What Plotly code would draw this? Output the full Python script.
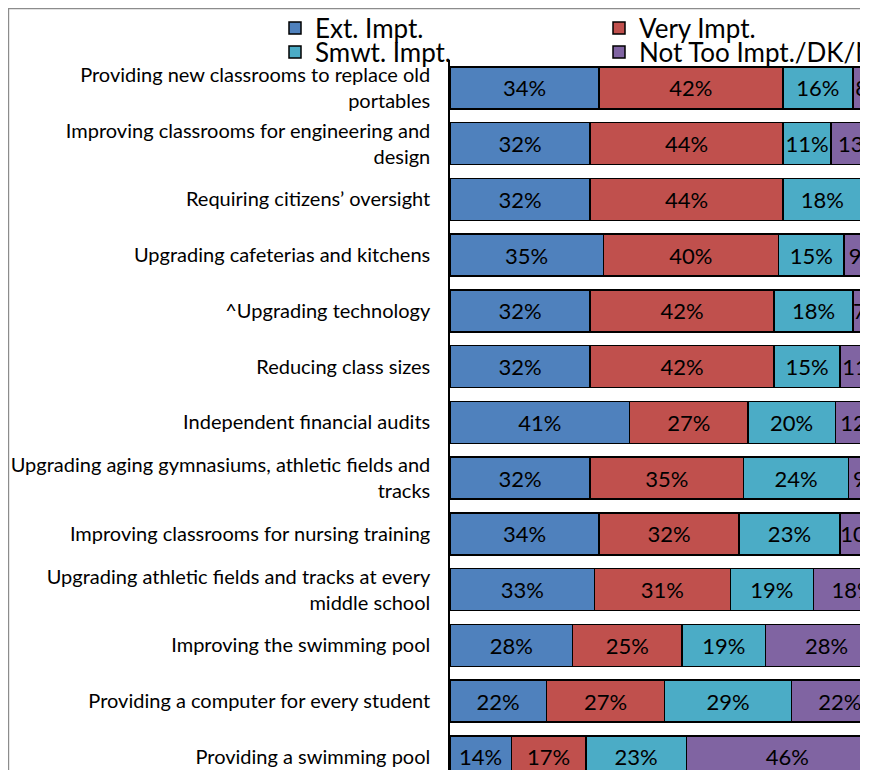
import plotly.graph_objects as go

categories = [
    "Providing new classrooms to replace old<br>portables",
    "Improving classrooms for engineering and<br>design",
    "Requiring citizens’ oversight",
    "Upgrading cafeterias and kitchens",
    "^Upgrading technology",
    "Reducing class sizes",
    "Independent financial audits",
    "Upgrading aging gymnasiums, athletic fields and<br>tracks",
    "Improving classrooms for nursing training",
    "Upgrading athletic fields and tracks at every<br>middle school",
    "Improving the swimming pool",
    "Providing a computer for every student",
    "Providing a swimming pool",
]
ext_impt = [34, 32, 32, 35, 32, 32, 41, 32, 34, 33, 28, 22, 14]
very_impt = [42, 44, 44, 40, 42, 42, 27, 35, 32, 31, 25, 27, 17]
smwt_impt = [16, 11, 18, 15, 18, 15, 20, 24, 23, 19, 19, 29, 23]
not_too = [8, 13, 6, 9, 7, 11, 12, 9, 10, 18, 28, 22, 46]

series = [
    ("Ext. Impt.", ext_impt, "#4F81BD", "legend"),
    ("Very Impt.", very_impt, "#C0504D", "legend"),
    ("Smwt. Impt.", smwt_impt, "#4BACC6", "legend2"),
    ("Not Too Impt./DK/NA", not_too, "#8064A2", "legend2"),
]

FONT = "Lato"
W, H = 852, 762  # page body has an 8px margin

fig = go.Figure()
for name, vals, color, lg in series:
    fig.add_trace(go.Bar(
        y=categories, x=vals, name=name, orientation="h",
        marker=dict(color=color, line=dict(color="black", width=1.5)),
        texttemplate="%{x}%", textposition="inside", insidetextanchor="middle",
        textangle=0, constraintext="none",
        textfont=dict(family=FONT, size=22, color="black"),
        legend=lg, cliponaxis=True,
    ))

px_per_pct = 4.38
x0_px = 442
top_px = 52
band = 55.75

fig.update_layout(
    width=W, height=H,
    margin=dict(l=0, r=0, t=0, b=0, autoexpand=False),
    barmode="stack", bargap=0.25,
    plot_bgcolor="white", paper_bgcolor="white",
    font=dict(family=FONT, color="black"),
    xaxis=dict(domain=[x0_px / W, 1], range=[0, (W - x0_px) / px_per_pct],
               showgrid=False, zeroline=False, showticklabels=False, showline=False,
               automargin=False),
    yaxis=dict(domain=[0, 1 - top_px / H],
               range=[-0.5 + (H - top_px) / band, -0.5],
               categoryorder="array", categoryarray=categories,
               showline=True, linecolor="black", linewidth=1.5,
               ticks="", ticklabelstandoff=14, automargin=False,
               tickfont=dict(family=FONT, size=20, color="black")),
    legend=dict(orientation="h", x=267 / W, xanchor="left", y=1 - 20 / H, yanchor="middle",
                entrywidth=279, font=dict(family=FONT, size=26, color="black"),
                bgcolor="rgba(0,0,0,0)", traceorder="normal"),
    legend2=dict(orientation="h", x=267 / W, xanchor="left", y=1 - 44 / H, yanchor="middle",
                 entrywidth=279, font=dict(family=FONT, size=26, color="black"),
                 bgcolor="rgba(0,0,0,0)", traceorder="normal"),
    shapes=[dict(type="rect", xref="paper", yref="paper",
                 x0=0.6 / W, x1=1.2, y0=-0.2, y1=1 - 0.6 / H,
                 line=dict(color="#8c8c8c", width=1.2), layer="below")],
)

fig.write_html("out.html")
